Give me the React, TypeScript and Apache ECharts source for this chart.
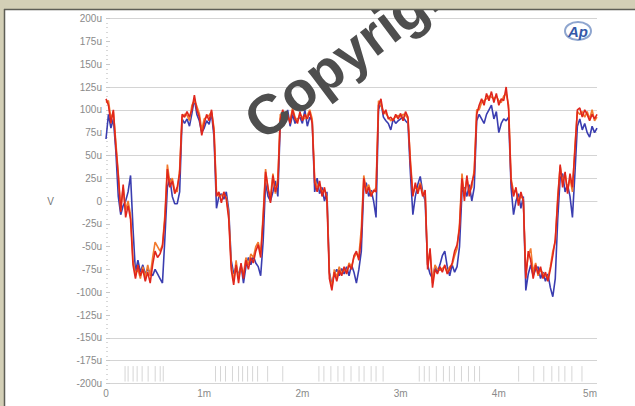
import React, { useEffect, useRef } from "react";
import * as echarts from "echarts";

// Sample spacing of the captured traces, in milliseconds.
const SAMPLE_STEP_MS = 0.025;

// Channel traces in microvolts, one sample every SAMPLE_STEP_MS from 0 to 5 ms.
const redTrace = [
  112, 105, 85, 100, 60, 28, -12, 18, -18, -5, -20, -70, -85, -70, -82, -75, -88, -78, -90, -70,
  -55, -62, -58, -50, -20, 35, 15, 22, 8, 15, 30, 95, 92, 98, 92, 100, 116, 100, 92, 72,
  85, 95, 88, 100, 75, 5, 10, -2, 10, 2, -20, -75, -92, -70, -90, -68, -85, -65, -75, -62,
  -68, -55, -48, -62, -20, 32, 15, -2, 28, 10, 20, 90, 100, 88, 95, 85, 100, 90, 85, 98,
  88, 95, 90, 98, 85, 20, 10, 22, 5, 15, 0, -85, -98, -78, -88, -76, -82, -72, -80, -70,
  -75, -60, -55, -65, -40, 25, 8, 15, 5, 12, 10, 105, 112, 95, 100, 90, 92, 88, 95, 90,
  96, 88, 98, 92, 40, 5, 20, 8, 18, 5, 12, -75, -52, -95, -75, -80, -72, -78, -70, -80,
  -75, -68, -55, -48, -30, 25, 0, 28, 5, 20, 30, 95, 105, 112, 105, 118, 110, 120, 108, 118,
  105, 112, 110, 125, 100, 22, 5, 15, -5, 10, 0, -85, -55, -65, -85, -70, -80, -72, -85, -78,
  -88, -75, -60, -42, 0, 40, 15, 32, 8, 30, 15, 55, 100, 102, 92, 100, 95, 88, 95, 90,
  95,
];

const orangeTrace = [
  108, 110, 90, 98, 65, 30, -8, 15, -10, 0, -15, -65, -80, -75, -85, -72, -84, -70, -82, -62,
  -45, -50, -55, -48, -15, 40, 20, 25, 12, 10, 35, 92, 95, 94, 88, 105, 110, 104, 96, 78,
  90, 92, 94, 98, 80, 10, 5, 6, 8, 4, -15, -70, -88, -65, -85, -72, -80, -62, -70, -58,
  -62, -50, -45, -58, -15, 35, 12, 5, 30, 8, 25, 95, 95, 90, 92, 88, 102, 92, 88, 95,
  92, 90, 94, 100, 90, 25, 15, 18, 10, 12, 5, -80, -95, -75, -84, -72, -80, -75, -78, -68,
  -72, -62, -58, -60, -30, 28, 12, 18, 8, 10, 15, 110, 105, 98, 96, 92, 88, 90, 92, 94,
  92, 95, 94, 90, 45, 8, 15, 12, 20, 8, 10, -70, -55, -90, -70, -75, -76, -74, -72, -78,
  -72, -70, -60, -52, -25, 30, 5, 25, 10, 15, 35, 100, 100, 108, 110, 112, 115, 114, 112, 115,
  110, 108, 115, 118, 105, 25, 10, 12, 0, 5, 2, -80, -60, -52, -78, -68, -82, -75, -80, -82,
  -85, -72, -55, -45, 5, 38, 20, 30, 12, 25, 10, 60, 98, 95, 98, 92, 98, 90, 100, 88,
  92,
];

const blueTrace = [
  68, 95, 80, 90, 55, 5, -15, -5, 0, 10, 28, -30, -78, -65, -78, -70, -80, -75, -78, -82,
  -75, -80, -85, -90, -40, 15, 25, 5, -3, -3, 10, 90, 85, 90, 82, 96, 112, 95, 88, 75,
  80, 88, 84, 96, 70, -8, 5, 8, 2, 10, -10, -65, -80, -72, -82, -70, -90, -72, -62, -70,
  -60, -68, -72, -82, -45, 20, 5, 0, 10, 22, 5, 85, 92, 85, 100, 82, 95, 85, 90, 92,
  85, 100, 82, 92, 88, 10, 25, 8, 15, 0, 10, -78, -92, -80, -75, -82, -74, -80, -72, -82,
  -70, -78, -90, -75, -55, 15, 20, 5, 12, 0, -18, 100, 108, 92, 88, 85, 78, 90, 85, 88,
  90, 92, 88, 85, 30, -15, 5, 18, 27, 10, 0, -70, -80, -85, -72, -78, -70, -60, -55, -72,
  -82, -70, -78, -72, -50, 10, 15, 5, 18, 0, 15, 88, 95, 90, 85, 95, 100, 105, 90, 98,
  75, 85, 90, 88, 92, 15, -15, 0, 8, -8, 5, -98, -80, -70, -82, -75, -72, -85, -78, -88,
  -80, -95, -105, -85, -20, 25, 30, 10, 18, 5, -18, 30, 82, 90, 78, 85, 75, 70, 82, 75,
  80,
];

// Short trigger marks along the bottom of the plot, in milliseconds.
const markTimes = [
  0.194, 0.225, 0.276, 0.317, 0.368, 0.429, 0.501, 0.552, 0.583,
  1.115, 1.166, 1.217, 1.288, 1.35, 1.391, 1.442, 1.493, 1.544, 1.646, 1.8,
  2.168, 2.219, 2.29, 2.362, 2.423, 2.495, 2.577, 2.628, 2.7, 2.75, 2.822,
  3.19, 3.241, 3.292, 3.364, 3.436, 3.497, 3.548, 3.62, 3.691, 3.753, 3.804,
  4.202, 4.356, 4.458, 4.54, 4.611, 4.673, 4.744, 4.847,
];

const yTickValues = [-200, -175, -150, -125, -100, -75, -50, -25, 0, 25, 50, 75, 100, 125, 150, 175, 200];
// Horizontal rules that are drawn (the others stay blank on the plot).
const visibleRules = [-200, -175, -150, 0, 25, 50, 75, 100, 125, 200];
const xTickLabels = ["0", "1m", "2m", "3m", "4m", "5m"];

const FONT = "'Liberation Sans', Arial, sans-serif";

const toPairs = (values: number[]) => values.map((v, i) => [i * SAMPLE_STEP_MS, v]);

export default function App() {
  const ref = useRef<HTMLDivElement>(null);

  useEffect(() => {
    if (!ref.current) return;
    const chart = echarts.init(ref.current, null, { renderer: "svg" });

    const ruleColors = yTickValues.map((v) => (visibleRules.includes(v) ? "#d4d4d4" : "rgba(0,0,0,0)"));

    chart.setOption({
      animation: false,
      backgroundColor: "#ffffff",
      grid: { left: 106, right: 38, top: 18.6, bottom: 22.6, containLabel: false },
      xAxis: {
        type: "value",
        min: 0,
        max: 5,
        interval: 1,
        axisLine: { show: true, lineStyle: { color: "#d4d4d4", width: 1 } },
        axisTick: { show: false },
        splitLine: { show: false },
        axisLabel: {
          color: "#8a8a8a",
          fontSize: 10,
          fontFamily: FONT,
          margin: 5,
          alignMaxLabel: "right",
          formatter: (v: number) => xTickLabels[Math.round(v)] ?? "",
        },
      },
      yAxis: {
        type: "value",
        min: -200,
        max: 200,
        interval: 25,
        name: "V",
        nameLocation: "middle",
        nameRotate: 0,
        nameGap: 52,
        nameTextStyle: { color: "#777", fontSize: 10, fontFamily: FONT },
        axisLine: { show: false },
        axisTick: { show: true, inside: true, length: 4, lineStyle: { color: "#c8c8c8" } },
        minorTick: { show: true, splitNumber: 5, length: 2, lineStyle: { color: "#d8d8d8" } },
        splitLine: { show: true, lineStyle: { color: ruleColors, width: 1 } },
        axisLabel: {
          color: "#8a8a8a",
          fontSize: 10,
          fontFamily: FONT,
          margin: 4,
          formatter: (v: number) => (v === 0 ? "0" : `${v}u`),
        },
      },
      series: [
        {
          type: "custom",
          silent: true,
          data: markTimes.map((t) => [t]),
          renderItem: (params: any, api: any) => {
            const t = api.value(0);
            const a = api.coord([t, -198]);
            const b = api.coord([t, -181]);
            return {
              type: "line",
              shape: { x1: a[0], y1: a[1], x2: b[0], y2: b[1] },
              style: { stroke: "#d6d6d6", lineWidth: 1 },
            };
          },
          z: 1,
        },
        {
          type: "line",
          name: "Ch B",
          data: toPairs(blueTrace),
          showSymbol: false,
          lineStyle: { color: "#3a3db0", width: 1.6 },
          z: 2,
        },
        {
          type: "line",
          name: "Ch A2",
          data: toPairs(orangeTrace),
          showSymbol: false,
          lineStyle: { color: "#f27a2e", width: 1.6 },
          z: 3,
        },
        {
          type: "line",
          name: "Ch A",
          data: toPairs(redTrace),
          showSymbol: false,
          lineStyle: { color: "#e0261c", width: 1.6 },
          z: 4,
        },
      ],
      graphic: [
        // window frame
        { type: "rect", shape: { x: 0, y: 0, width: 635, height: 9 }, style: { fill: "#d3cfb6" }, z: 10 },
        { type: "rect", shape: { x: 0, y: 0, width: 4, height: 406 }, style: { fill: "#d3cfb6" }, z: 10 },
        { type: "line", shape: { x1: 4, y1: 9.5, x2: 635, y2: 9.5 }, style: { stroke: "#5e5e56", lineWidth: 1.5 }, z: 11 },
        { type: "line", shape: { x1: 4.5, y1: 9, x2: 4.5, y2: 406 }, style: { stroke: "#5e5e56", lineWidth: 1.5 }, z: 11 },
        // AP badge
        {
          type: "ellipse",
          shape: { cx: 578, cy: 31, rx: 13, ry: 9 },
          style: { fill: "none", stroke: "#8fa6cf", lineWidth: 2 },
          z: 12,
        },
        {
          type: "text",
          x: 578,
          y: 31,
          style: {
            text: "Ap",
            fill: "#3458a8",
            font: `italic bold 15px ${FONT}`,
            align: "center",
            verticalAlign: "middle",
          },
          z: 13,
        },
        // copyright watermark
        {
          type: "text",
          x: 268,
          y: 149,
          rotation: (37 * Math.PI) / 180,
          style: {
            text: "Copyright",
            fill: "#4e4e4e",
            font: `bold 56px ${FONT}`,
            align: "left",
            verticalAlign: "bottom",
          },
          z: 9,
        },
      ],
    });

    return () => chart.dispose();
  }, []);

  return (
    <div
      ref={ref}
      style={{ position: "fixed", left: 0, top: 0, width: 635, height: 406, background: "#fff" }}
    />
  );
}
